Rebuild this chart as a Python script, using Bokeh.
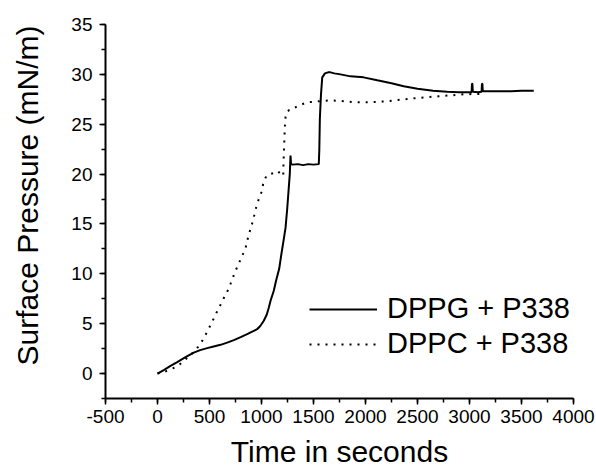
from bokeh.plotting import figure
from bokeh.models import Range1d, SingleIntervalTicker, Legend, LegendItem, Title, PrintfTickFormatter
from bokeh.embed import file_html
from bokeh.resources import INLINE

# DPPG + P338 (solid)
dppg_t = [0, 60, 125, 190, 253, 300, 349, 410, 478, 540, 606, 670, 734, 800, 862, 920, 958, 990,
          1022, 1050, 1070, 1087, 1118, 1140, 1170, 1190, 1210, 1231, 1247, 1262, 1272, 1279, 1284,
          1300, 1350, 1400, 1450, 1500, 1551, 1556, 1561, 1572, 1584, 1610, 1640, 1663, 1700, 1760,
          1856, 1981, 2113, 2250, 2368, 2500, 2650, 2785, 2900, 3020, 3024, 3028, 3032, 3080, 3116,
          3120, 3124, 3128, 3200, 3300, 3400, 3500, 3618]
dppg_p = [0, 0.35, 0.77, 1.15, 1.54, 1.82, 2.1, 2.35, 2.55, 2.72, 2.88, 3.1, 3.35, 3.65, 3.95, 4.25,
          4.45, 4.8, 5.3, 5.9, 6.6, 7.3, 8.3, 9.3, 10.5, 11.9, 13.2, 14.6, 16.5, 18.6, 20.0, 21.86,
          21.0, 20.95, 21.0, 20.9, 21.0, 20.95, 21.0, 22.5, 25.5, 28.0, 29.7, 30.1, 30.2, 30.2, 30.1,
          30.0, 29.8, 29.7, 29.4, 29.1, 28.8, 28.55, 28.35, 28.25, 28.2, 28.2, 29.05, 29.05, 28.25,
          28.2, 28.25, 29.05, 29.05, 28.3, 28.3, 28.3, 28.3, 28.35, 28.35]

# DPPC + P338 (dotted)
dppc_t = [0, 93, 151, 205, 253, 301, 350, 391, 430, 478, 526, 567, 606, 638, 670, 702, 750, 782,
          814, 846, 872, 894, 917, 936, 952, 974, 1000, 1016, 1045, 1080, 1118, 1160, 1189, 1209,
          1212, 1215, 1220, 1225, 1231, 1245, 1263, 1295, 1343, 1440, 1550, 1663, 1800, 1900, 2048,
          2200, 2464, 2700, 2945, 3122]
dppc_p = [0, 0.27, 0.54, 0.84, 1.28, 1.7, 2.2, 2.68, 3.28, 4.2, 5.2, 6.1, 6.9, 7.57, 8.2, 9.0, 10.3,
          11.04, 11.8, 12.55, 13.7, 14.5, 15.3, 16.1, 16.8, 17.5, 18.2, 19.0, 19.8, 20.0, 20.1, 20.3,
          19.85, 19.85, 21.2, 22.0, 23.5, 24.8, 25.7, 26.2, 26.4, 26.5, 26.8, 27.2, 27.3, 27.4, 27.3,
          27.2, 27.2, 27.3, 27.6, 27.8, 28.0, 28.05]

series_names = ["DPPG + P338", "DPPC + P338"]
x_title = "Time in seconds"
y_title = "Surface Pressure (mN/m)"

FONT = "Liberation Sans"

p = figure(width=596, height=470, output_backend="svg", toolbar_location=None,
           x_range=Range1d(-500, 4000), y_range=Range1d(-2.5, 35),
           min_border_left=105, min_border_right=23, min_border_top=24, min_border_bottom=72)
p.outline_line_color = None
p.xgrid.visible = False
p.ygrid.visible = False
p.background_fill_color = "white"
p.border_fill_color = "white"

p.xaxis.ticker = SingleIntervalTicker(interval=500, num_minor_ticks=2)
p.yaxis.ticker = SingleIntervalTicker(interval=5, num_minor_ticks=2)
p.xaxis.formatter = PrintfTickFormatter(format="%d")
p.yaxis.formatter = PrintfTickFormatter(format="%d")
for ax in (p.xaxis[0], p.yaxis[0]):
    ax.axis_line_width = 2
    ax.axis_line_color = "black"
    ax.major_tick_line_width = 1.5
    ax.minor_tick_line_width = 1.5
    ax.major_tick_line_color = "black"
    ax.minor_tick_line_color = "black"
    ax.major_tick_in = 0
    ax.major_tick_out = 6
    ax.minor_tick_in = 0
    ax.minor_tick_out = 4
    ax.major_label_text_font = FONT
    ax.major_label_text_font_size = "19px"
    ax.major_label_text_color = "black"
p.xaxis.major_label_standoff = 5
p.yaxis.major_label_standoff = 7

p.xaxis.axis_label = x_title
p.xaxis.axis_label_text_font = FONT
p.xaxis.axis_label_text_font_size = "30px"
p.xaxis.axis_label_text_font_style = "normal"
p.xaxis.axis_label_text_color = "black"
p.xaxis.axis_label_standoff = 9

r1 = p.line(dppg_t, dppg_p, line_color="black", line_width=2)
r2 = p.line(dppc_t, dppc_p, line_color="black", line_width=2, line_dash="2 6")

legend = Legend(items=[LegendItem(label=series_names[0], renderers=[r1]),
                       LegendItem(label=series_names[1], renderers=[r2])],
                location=(204, 38), padding=0, margin=0, spacing=2,
                glyph_width=68, glyph_height=30, label_height=30, label_standoff=10,
                label_text_font=FONT, label_text_font_size="29px", label_text_color="black",
                border_line_color=None, background_fill_alpha=0)
p.add_layout(legend, "center")

# spacer between the y axis and its title
p.add_layout(Title(text=" ", text_font_size="1px", standoff=22), "left")
p.add_layout(Title(text=y_title, align="left", offset=33, vertical_align="bottom",
                   text_font=FONT, text_font_size="30px", text_font_style="normal",
                   text_color="black", standoff=0), "left")

open("out.html", "w").write(file_html(p, INLINE))
